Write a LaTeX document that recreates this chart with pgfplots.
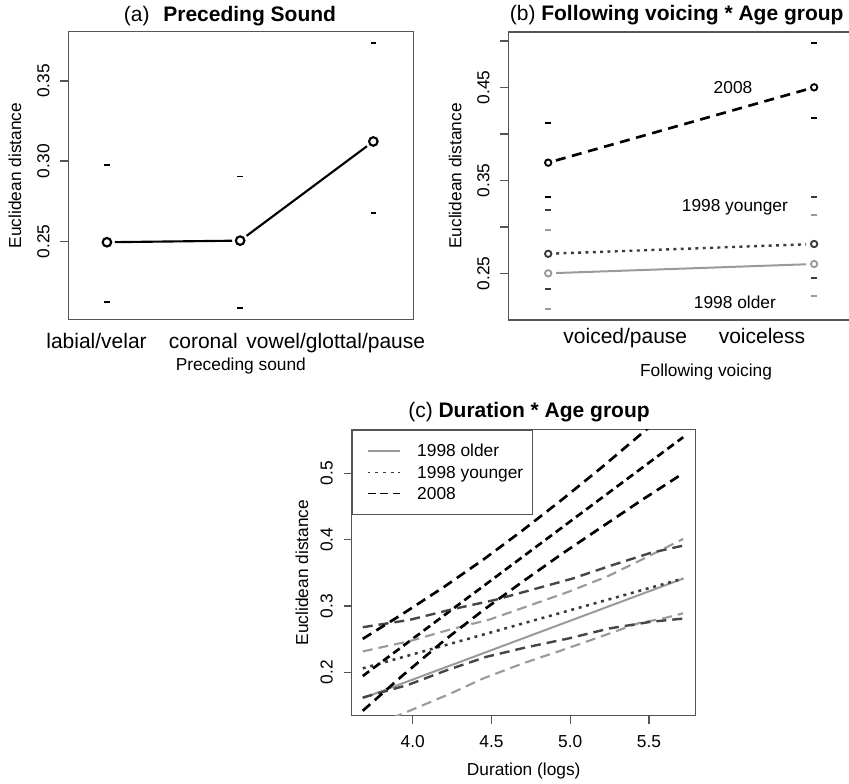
\documentclass[border=0pt]{standalone}
\usepackage{fontspec}
\setmainfont{Liberation Sans}
\usepackage{pgfplots}
\pgfplotsset{compat=1.18}
\definecolor{boxc}{HTML}{555555}
\definecolor{oldc}{HTML}{9A9A9A}
\definecolor{youngc}{HTML}{3A3A3A}
\definecolor{youngci}{HTML}{454545}
\pgfplotsset{
  every axis title shift=0pt,
  rbox/.style={
    scale only axis, anchor=south west, clip=true,
    axis line style={draw=boxc, line width=1.1pt},
    every tick/.style={draw=boxc, line width=1.1pt},
    tick align=outside, major tick length=6pt, tick pos=left,
    yticklabel style={font=\fontsize{13}{15}\selectfont, xshift=-12.75pt, rotate=90, anchor=center, inner sep=0pt},
    title style={font=\fontsize{15.75}{18}\selectfont, anchor=center, inner sep=0pt, yshift=0pt, xshift=0pt},
    xlabel style={font=\fontsize{13}{15}\selectfont, anchor=center, inner sep=0pt},
    ylabel style={font=\fontsize{13}{15}\selectfont, anchor=center, inner sep=0pt},
  },
  ci/.style={only marks, mark=-, mark size=2.1pt, mark options={solid, line width=1.4pt}},
  seg/.style={shorten >=6pt, shorten <=6pt},
}
\begin{document}
\begin{tikzpicture}
\useasboundingbox (0,0) rectangle (636.75pt,587.25pt);
\clip (0,0) rectangle (636.75pt,587.25pt);

% ---------------- (a)
\begin{axis}[rbox, at={(51.225pt,347.775pt)}, width=258.75pt, height=215.7pt,
  xmin=0.71, xmax=3.30, ymin=0.2013, ymax=0.3808,
  xtick={0.922,1.7235,2.718}, xticklabels={labial/velar,coronal,vowel/glottal/pause},
  xtick style={draw=none},
  xticklabel style={font=\fontsize{15.75}{18}\selectfont, anchor=base, inner sep=0pt, yshift=-15.75pt},
  ytick={0.25,0.30,0.35}, yticklabels={0.25,0.30,0.35},
  title={(a)\hspace{10.3pt}\textbf{Preceding Sound}},
  title style={at={(axis description cs:0.4687,1.0546)}, anchor=center},
  xlabel={Preceding sound},
  xlabel style={at={(axis description cs:0.5,-0.1624)}},
  ylabel={Euclidean distance},
  ylabel style={at={(axis description cs:-0.1545,0.5)}},
]
\addplot[black, line width=1.6pt, seg] coordinates {(1,0.2494) (2,0.2504)};
\addplot[black, line width=1.6pt, seg] coordinates {(2,0.2504) (3,0.3123)};
\addplot[only marks, mark=o, mark size=3.2pt, mark options={black, line width=1.6pt}] coordinates {(1,0.2494) (2,0.2504) (3,0.3123)};
\addplot[ci, black] coordinates {(1,0.2123) (1,0.2977) (2,0.2081) (2,0.2904) (3,0.2675) (3,0.3739)};
\end{axis}

% ---------------- (b)
\begin{axis}[rbox, at={(381.225pt,347.25pt)}, width=259.275pt, height=216pt,
  xmin=0.85, xmax=2.15, ymin=0.1998, ymax=0.5095,
  xtick={1.29,1.804}, xticklabels={voiced/pause,voiceless},
  xtick style={draw=none},
  xticklabel style={font=\fontsize{15.75}{18}\selectfont, anchor=base, inner sep=0pt, yshift=-11.5pt},
  ytick={0.25,0.30,0.35,0.40,0.45,0.50}, yticklabels={0.25,,0.35,,0.45,},
  title={(b) \textbf{Following voicing * Age group}},
  title style={at={(axis description cs:0.487,1.059)}, anchor=center},
  xlabel={Following voicing},
  xlabel style={at={(axis description cs:0.572,-0.179)}},
  ylabel={Euclidean distance},
  ylabel style={at={(axis description cs:-0.154,0.5)}},
]
% 1998 older
\addplot[oldc, line width=1.5pt, seg] coordinates {(1,0.250) (2,0.260)};
\addplot[only marks, mark=o, mark size=2.4pt, mark options={oldc, line width=1.4pt}] coordinates {(1,0.250) (2,0.260)};
\addplot[ci, oldc] coordinates {(1,0.212) (1,0.297) (2,0.2256) (2,0.313)};
% 1998 younger
\addplot[youngc, line width=1.8pt, dash pattern=on 2.2pt off 3.3pt, seg] coordinates {(1,0.271) (2,0.2815)};
\addplot[only marks, mark=o, mark size=2.4pt, mark options={youngc, line width=1.4pt}] coordinates {(1,0.271) (2,0.2815)};
\addplot[ci, youngc] coordinates {(1,0.233) (1,0.318) (2,0.245) (2,0.332)};
% 2008
\addplot[black, line width=2pt, dash pattern=on 7.5pt off 5pt, seg] coordinates {(1,0.369) (2,0.450)};
\addplot[only marks, mark=o, mark size=2.4pt, mark options={black, line width=1.4pt}] coordinates {(1,0.369) (2,0.450)};
\addplot[ci, black] coordinates {(1,0.332) (1,0.412) (2,0.417) (2,0.498)};
\node[font=\fontsize{13}{15}\selectfont] at (axis cs:1.695,0.450) {2008};
\node[font=\fontsize{13}{15}\selectfont] at (axis cs:1.702,0.3213) {1998 younger};
\node[font=\fontsize{13}{15}\selectfont] at (axis cs:1.702,0.2191) {1998 older};
\end{axis}

% ---------------- (c)
\begin{axis}[rbox, at={(263.775pt,50.625pt)}, width=258pt, height=214.5pt,
  xmin=3.6128, xmax=5.7965, ymin=0.1349, ymax=0.566,
  xtick={4.0,4.5,5.0,5.5}, xticklabels={4.0,4.5,5.0,5.5},
  xticklabel style={font=\fontsize{13}{15}\selectfont, anchor=center, inner sep=0pt, yshift=-13.65pt},
  ytick={0.2,0.3,0.4,0.5}, yticklabels={0.2,0.3,0.4,0.5},
  title={(c) \textbf{Duration * Age group}},
  title style={at={(axis description cs:0.5154,1.0622)}, anchor=center},
  xlabel={Duration (logs)},
  xlabel style={at={(axis description cs:0.5,-0.193)}},
  ylabel={Euclidean distance},
  ylabel style={at={(axis description cs:-0.145,0.5)}},
  legend style={at={(0,1)}, anchor=north west, draw=boxc, line width=1.1pt,
    inner xsep=6.75pt, inner ysep=7.5pt, column sep=12.75pt,
    font=\fontsize{13}{15}\selectfont,
    nodes={inner sep=0pt, text height=12.5pt, text depth=3.5pt}},
  legend cell align=left,
  legend image code/.code={\path (0pt,0pt); \draw[#1] (4pt,0pt) -- (28pt,0pt);},
  legend image post style={line width=1.1pt},
]
\addplot[oldc, line width=1.5pt] coordinates {(3.683,0.161) (5.717,0.3413)};
\addlegendentry{1998 older}
\addplot[youngc, line width=1.9pt, dash pattern=on 2.2pt off 3.6pt] coordinates {(3.683,0.206) (5.717,0.3413)};
\addlegendentry{1998 younger}
\addplot[black, line width=2pt, dash pattern=on 6pt off 3.5pt] coordinates {(3.683,0.1944) (5.717,0.5544)};
\addlegendentry{2008}
% 1998 older CI
\addplot[oldc, line width=1.6pt, dash pattern=on 7.5pt off 4.5pt, forget plot] coordinates {(3.683,0.2315) (3.98,0.247) (4.24,0.2647) (4.49,0.2797) (4.745,0.301) (4.985,0.321) (5.24,0.345) (5.455,0.370) (5.717,0.401)};
\addplot[oldc, line width=1.6pt, dash pattern=on 7.5pt off 4.5pt, forget plot] coordinates {(3.683,0.113) (3.97,0.141) (4.24,0.168) (4.45,0.191) (4.70,0.2135) (4.95,0.2335) (5.19,0.2535) (5.44,0.2746) (5.57,0.280) (5.717,0.289)};
% 1998 younger CI
\addplot[youngci, line width=1.8pt, dash pattern=on 7.5pt off 4.5pt, forget plot] coordinates {(3.683,0.268) (3.98,0.279) (4.25,0.295) (4.52,0.309) (4.75,0.324) (5.01,0.341) (5.26,0.361) (5.51,0.380) (5.717,0.391)};
\addplot[youngci, line width=1.8pt, dash pattern=on 7.5pt off 4.5pt, forget plot] coordinates {(3.683,0.162) (3.97,0.181) (4.22,0.2035) (4.47,0.2235) (4.72,0.2376) (4.99,0.2511) (5.25,0.2662) (5.51,0.2761) (5.717,0.281)};
% 2008 CI
\addplot[black, line width=2pt, dash pattern=on 7.5pt off 4.5pt, forget plot] coordinates {(3.683,0.2504) (3.93,0.2871) (4.2,0.3289) (4.45,0.3702) (4.7,0.4144) (4.95,0.4607) (5.2,0.5089) (5.45,0.5592) (5.717,0.6134)};
\addplot[black, line width=2pt, dash pattern=on 7.5pt off 4.5pt, forget plot] coordinates {(3.683,0.142) (3.93,0.194) (4.2,0.248) (4.45,0.294) (4.7,0.337) (4.95,0.379) (5.2,0.419) (5.45,0.459) (5.717,0.500)};
\end{axis}
\end{tikzpicture}
\end{document}
